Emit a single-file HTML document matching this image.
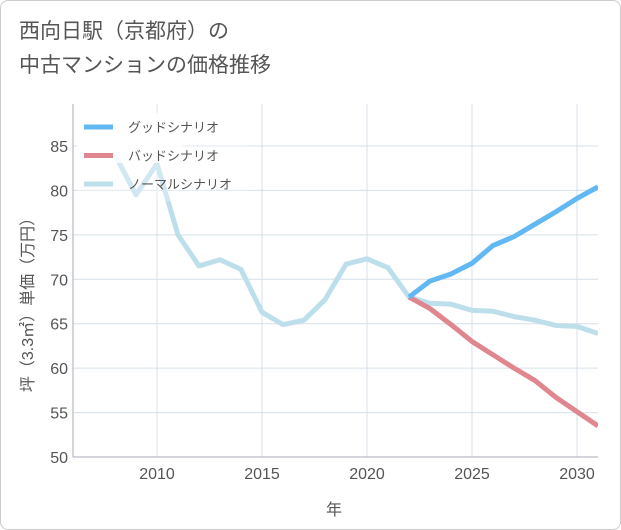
<!DOCTYPE html>
<html><head><meta charset="utf-8"><style>
body{margin:0;background:#fff;}
#wrap{position:relative;width:619px;height:528px;border:1px solid #ccc;border-radius:8px;overflow:hidden;background:#fff;font-family:"Liberation Sans","Noto Sans CJK JP",sans-serif;}
#title{position:absolute;left:18px;top:14px;font-size:21px;line-height:34px;color:#555;}
</style></head><body>
<div id="wrap">
<div id="title">西向日駅（京都府）の<br>中古マンションの価格推移</div>
<svg id="chart" width="621" height="530" style="position:absolute;left:0;top:0"></svg>
</div>
<script>
const years=[2008,2009,2010,2011,2012,2013,2014,2015,2016,2017,2018,2019,2020,2021,2022,2023,2024,2025,2026,2027,2028,2029,2030,2031];
const normalVals=[84,79.5,83,75,71.5,72.2,71.1,66.3,64.9,65.4,67.7,71.7,72.3,71.3,68,67.3,67.2,66.5,66.4,65.8,65.4,64.8,64.7,63.9];
const futureYears=[2022,2023,2024,2025,2026,2027,2028,2029,2030,2031];
const goodVals=[68,69.8,70.6,71.8,73.8,74.8,76.2,77.6,79.1,80.4];
const badVals=[68,66.7,64.9,63,61.5,60,58.6,56.7,55.1,53.5];
const yTicks=[50,55,60,65,70,75,80,85];
const xTicks=[2010,2015,2020,2025,2030];
const X0=72,X1=597,Y0=103,Y1=456;
const xs=y=>156+(y-2010)*21;
const ys=v=>456-(v-50)*(311/35);
const svg=document.getElementById('chart');const NS='http://www.w3.org/2000/svg';
function mk(t,a,p){const e=document.createElementNS(NS,t);for(const k in a)e.setAttribute(k,a[k]);(p||svg).appendChild(e);return e;}
const clip=mk('clipPath',{id:'pc'});mk('rect',{x:X0,y:Y0,width:X1-X0,height:Y1-Y0},clip);
const grid=mk('g',{});


yTicks.forEach(v=>{const l=mk('line',{x1:X0,x2:X1,y1:ys(v),y2:ys(v),stroke:'#d5e0ea','stroke-width':1},grid);
const t=mk('text',{x:X0-5,y:ys(v)+6,'text-anchor':'end','font-size':16,fill:'#555'});t.textContent=v;

});
xTicks.forEach(v=>{mk('line',{x1:xs(v),x2:xs(v),y1:Y0,y2:Y1,stroke:'#d5e0ea','stroke-width':1},grid);
const t=mk('text',{x:xs(v),y:Y1+22,'text-anchor':'middle','font-size':16,fill:'#555'});t.textContent=v;

});
mk('line',{x1:X0,x2:X0,y1:Y0,y2:Y1,stroke:'#aab','stroke-width':1});
mk('line',{x1:X0,x2:X1,y1:Y1,y2:Y1,stroke:'#aab','stroke-width':1});
function line(xa,va,col,name){const p=mk('polyline',{points:xa.map((y,i)=>xs(y)+','+ys(va[i])).join(' '),fill:'none',stroke:col,'stroke-width':5,'stroke-linejoin':'round','clip-path':'url(#pc)'});

}
line(years,normalVals,'#bddfec','normal-scenario-line');
line(futureYears,badVals,'#e0868e','bad-scenario-line');
line(futureYears,goodVals,'#62b8f2','good-scenario-line');
mk('rect',{x:76,y:112,width:106,height:50,fill:'#fff','fill-opacity':0.85});
mk('rect',{x:76,y:110,width:170,height:90,fill:'#fff','fill-opacity':0.3});
[['グッドシナリオ','#62b8f2'],['バッドシナリオ','#e0868e'],['ノーマルシナリオ','#bddfec']].forEach((d,i)=>{
const y=126+i*28.5;
const g=mk('g',{});


mk('line',{x1:83,x2:112,y1:y,y2:y,stroke:d[1],'stroke-width':5},g);
const t=mk('text',{x:127,y:y+5,'font-size':13,fill:'#555'},g);t.textContent=d[0];});
const xt=mk('text',{x:333,y:514,'text-anchor':'middle','font-size':16,fill:'#555'});xt.textContent='年';


const yt=mk('text',{x:0,y:0,transform:'translate(32,300) rotate(-90)','text-anchor':'middle','font-size':16,fill:'#555'});yt.textContent='坪（3.3㎡）単価（万円）';


</script>
</body></html>
